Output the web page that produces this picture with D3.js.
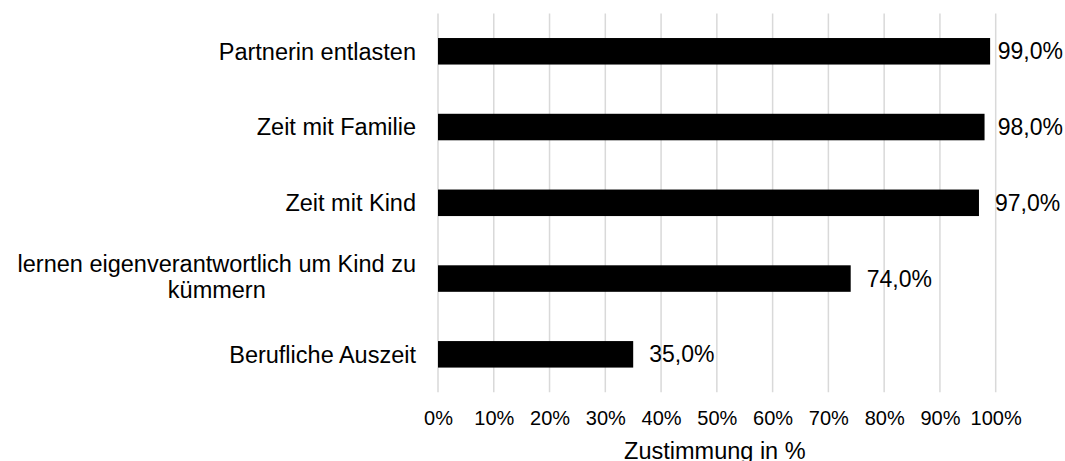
<!DOCTYPE html>
<html>
<head>
<meta charset="utf-8">
<script src="https://cdn.jsdelivr.net/npm/d3@7"></script>
<style>
  body { margin: 0; background: #fff; }
  text { font-family: "Liberation Sans", Arial, sans-serif; fill: #000; }
</style>
</head>
<body>
<script>
// Data
const categories = [
  'Partnerin entlasten',
  'Zeit mit Familie',
  'Zeit mit Kind',
  'lernen eigenverantwortlich um Kind zu kümmern',
  'Berufliche Auszeit'
];
const values = [99, 98, 97, 74, 35];
const tickValues = [0, 10, 20, 30, 40, 50, 60, 70, 80, 90, 100];
const axisTitle = 'Zustimmung in %';

// Long category label is split into two lines like the original
const labelLines = {
  'lernen eigenverantwortlich um Kind zu kümmern': ['lernen eigenverantwortlich um Kind zu', 'kümmern']
};

const W = 1065, H = 461;
const plot = { left: 438, right: 995.7, top: 13.4, bottom: 392.2 };

const svg = d3.select('body')
  .append('svg')
  .attr('width', W)
  .attr('height', H);

const x = d3.scaleLinear()
  .domain([0, 100])
  .range([plot.left, plot.right]);

const y = d3.scaleBand()
  .domain(categories)
  .range([plot.top, plot.bottom])
  .paddingInner(0.65)
  .paddingOuter(0.325);

// Gridlines
svg.append('g')
  .selectAll('line')
  .data(tickValues)
  .enter().append('line')
  .attr('x1', d => x(d))
  .attr('x2', d => x(d))
  .attr('y1', plot.top)
  .attr('y2', plot.bottom)
  .attr('stroke', '#d9d9d9')
  .attr('stroke-width', 1.5);

// X axis tick labels
const xAxis = d3.axisBottom(x)
  .tickValues(tickValues)
  .tickFormat(d => d + '%')
  .tickSize(0)
  .tickPadding(0);

const gx = svg.append('g')
  .attr('transform', `translate(0, ${plot.bottom})`)
  .call(xAxis);
gx.select('.domain').remove();
gx.selectAll('text')
  .attr('y', 0)
  .attr('dy', 0)
  .attr('transform', 'translate(0, 32.5)')
  .style('font-size', '20px')
  .style('font-family', '"Liberation Sans", Arial, sans-serif')
  .attr('fill', '#000');

// Axis title
svg.append('text')
  .attr('x', (plot.left + plot.right) / 2 - 2)
  .attr('y', 459)
  .attr('text-anchor', 'middle')
  .style('font-size', '23.5px')
  .text(axisTitle);

// Bars
svg.append('g')
  .selectAll('rect')
  .data(categories)
  .enter().append('rect')
  .attr('x', x(0))
  .attr('y', d => y(d))
  .attr('width', (d, i) => x(values[i]) - x(0))
  .attr('height', y.bandwidth())
  .attr('fill', '#000');

// Category labels: block right edge at 416, lines centred inside the block
const catG = svg.append('g');
categories.forEach(c => {
  const lines = labelLines[c] || [c];
  const cy = y(c) + y.bandwidth() / 2 + (lines.length > 1 ? -2 : 0);
  const lh = 25.5;
  const t = catG.append('text')
    .attr('text-anchor', 'middle')
    .style('font-size', '23.5px');
  const spans = lines.map((ln, j) => t.append('tspan')
    .attr('y', cy + (j - (lines.length - 1) / 2) * lh)
    .attr('dy', '0.35em')
    .text(ln));
  const bw = d3.max(spans, s => s.node().getComputedTextLength());
  spans.forEach((s, j) => s.attr('x', 416 - bw / 2));
});

// Value labels
svg.append('g')
  .selectAll('text')
  .data(categories)
  .enter().append('text')
  .attr('y', d => y(d) + y.bandwidth() / 2)
  .attr('dy', '0.35em')
  .style('font-size', '23px')
  .text((d, i) => values[i].toFixed(1).replace('.', ',') + '%')
  .attr('x', function (d, i) {
    const w = this.getComputedTextLength();
    return Math.min(x(values[i]) + 16, W - 2 - w);
  });
</script>
</body>
</html>
